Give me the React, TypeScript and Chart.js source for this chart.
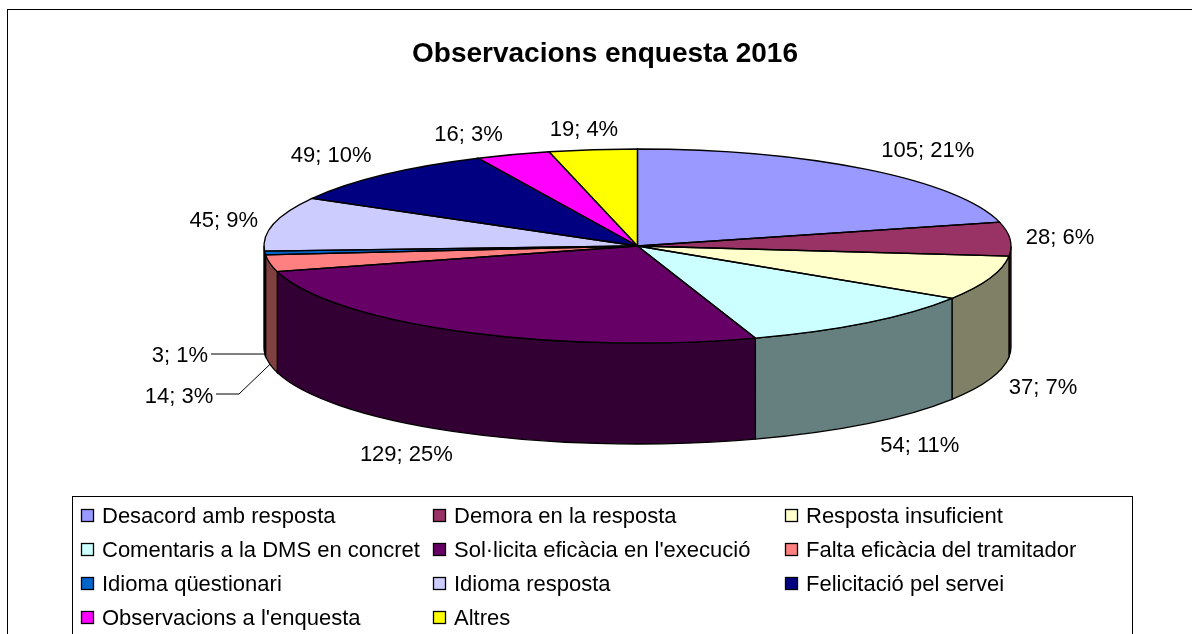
import React, { useEffect, useRef } from "react";
import { Chart, registerables } from "chart.js";

Chart.register(...registerables);

const titleText = "Observacions enquesta 2016";
const categories = [
  "Desacord amb resposta",
  "Demora en la resposta",
  "Resposta insuficient",
  "Comentaris a la DMS en concret",
  "Sol·licita eficàcia en l'execució",
  "Falta eficàcia del tramitador",
  "Idioma qüestionari",
  "Idioma resposta",
  "Felicitació pel servei",
  "Observacions a l'enquesta",
  "Altres",
];
const counts = [105, 28, 37, 54, 129, 14, 3, 45, 49, 16, 19];
const percents = [21, 6, 7, 11, 25, 3, 1, 9, 10, 3, 4];
const faceColors = ["#9999FF", "#993366", "#FFFFCC", "#CCFFFF", "#660066", "#FF8080", "#0066CC", "#CCCCFF", "#000080", "#FF00FF", "#FFFF00"];
const wallColors = ["#4D4D80", "#4D1A33", "#808066", "#668080", "#330033", "#804040", "#003366", "#666680", "#000040", "#800080", "#808000"];

// label offset from the slice's rim point (on the wall bottom when the rim is in front)
const labelOffsets = [[61, -19.5], [50, -2], [53, 8], [53, 21.5], [-55, 21.4], [-91, 32], [-85, 1], [-50, -4], [-52, -20], [-44.5, -20.6], [-9, -20.7]];
const leaderLines: Record<number, number[][]> = {
  5: [[239, 394], [216, 394]],
  6: [[211, 354]],
};

const FONT = '"Liberation Sans", Arial, sans-serif';
const CX = 637.5, CY = 246, RX = 373.5, RY = 97, DEPTH = 101;
const OUTLINE = 1.3;

const pie3d = {
  id: "pie3d",
  beforeDatasetsDraw(chart: any) {
    const ctx = chart.ctx;
    const arcs = chart.getDatasetMeta(0).data;
    // walls
    ctx.save();
    ctx.lineWidth = OUTLINE;
    ctx.strokeStyle = "#000";
    arcs.forEach((a: any, i: number) => {
      let s = a.startAngle, e = a.endAngle;
      const full = Math.PI * 2;
      while (s < -Math.PI / 2) { s += full; e += full; }
      const from = Math.max(s, 0), to = Math.min(e, Math.PI);
      if (to <= from) return;
      ctx.beginPath();
      ctx.ellipse(CX, CY, RX, RY, 0, from, to);
      ctx.ellipse(CX, CY + DEPTH, RX, RY, 0, to, from, true);
      ctx.closePath();
      ctx.fillStyle = wallColors[i];
      ctx.fill();
      ctx.stroke();
    });
    ctx.restore();
    // let the library's own arcs draw on a squashed plane
    const a0 = arcs[0];
    const sx = RX / a0.outerRadius, sy = RY / a0.outerRadius;
    ctx.save();
    ctx.translate(CX, CY);
    ctx.scale(sx, sy);
    ctx.translate(-a0.x, -a0.y);
  },
  afterDatasetsDraw(chart: any) {
    const ctx = chart.ctx;
    ctx.restore();
    const arcs = chart.getDatasetMeta(0).data;
    ctx.save();
    ctx.lineWidth = OUTLINE;
    ctx.strokeStyle = "#000";
    arcs.forEach((a: any) => {
      ctx.beginPath();
      ctx.moveTo(CX, CY);
      ctx.ellipse(CX, CY, RX, RY, 0, a.startAngle, a.endAngle);
      ctx.closePath();
      ctx.stroke();
    });
    // data labels + leaders
    ctx.font = `22px ${FONT}`;
    ctx.fillStyle = "#000";
    ctx.textAlign = "center";
    ctx.textBaseline = "middle";
    arcs.forEach((a: any, i: number) => {
      const mid = (a.startAngle + a.endAngle) / 2;
      const px = CX + RX * Math.cos(mid);
      let py = CY + RY * Math.sin(mid);
      const front = i >= 2 && i <= 6;
      if (front) py += DEPTH;
      const lx = px + labelOffsets[i][0], ly = py + labelOffsets[i][1] + 1;
      const lead = leaderLines[i];
      if (lead) {
        ctx.beginPath();
        ctx.moveTo(px, py);
        lead.forEach((p: number[]) => ctx.lineTo(p[0], p[1]));
        ctx.strokeStyle = "#000";
        ctx.lineWidth = 1;
        ctx.stroke();
      }
      ctx.fillText(`${counts[i]}; ${percents[i]}%`, lx, ly);
    });
    // legend
    const colX = [81, 433, 785], rowY = [516, 550, 584, 618];
    ctx.strokeStyle = "#000";
    ctx.lineWidth = 1;
    ctx.strokeRect(72.5, 496.5, 1060, 200);
    ctx.textAlign = "left";
    categories.forEach((c, i) => {
      const x = colX[i % 3], y = rowY[Math.floor(i / 3)];
      ctx.fillStyle = faceColors[i];
      ctx.fillRect(x + 0.5, y - 6.5, 12, 12);
      ctx.lineWidth = 1.3;
      ctx.strokeRect(x + 0.5, y - 6.5, 12, 12);
      ctx.lineWidth = 1;
      ctx.fillStyle = "#000";
      ctx.fillText(c, x + 21, y + 1);
    });
    // chart frame runs off the right and bottom edges
    ctx.strokeStyle = "#000";
    ctx.strokeRect(7.5, 9.5, 1300, 800);
    ctx.restore();
  },
};

export default function App() {
  const ref = useRef<HTMLCanvasElement>(null);
  useEffect(() => {
    const chart = new Chart(ref.current as HTMLCanvasElement, {
      type: "pie",
      data: {
        labels: categories,
        datasets: [{ data: counts, backgroundColor: faceColors, borderWidth: 0, clip: false } as any],
      },
      options: {
        responsive: false,
        animation: false,
        layout: { padding: { left: 18, top: 37, right: 0, bottom: 0 } },
        plugins: {
          legend: { display: false },
          tooltip: { enabled: false },
          title: {
            display: true,
            text: titleText,
            color: "#000",
            font: { family: FONT, size: 28, weight: "bold" },
            padding: { top: 0, bottom: 10 },
          },
        },
      } as any,
      plugins: [pie3d],
    });
    return () => chart.destroy();
  }, []);
  return (
    <div style={{ position: "fixed", left: 0, top: 0, width: 1192, height: 634, overflow: "hidden", background: "#fff" }}>
      <canvas ref={ref} width={1192} height={634} style={{ display: "block" }} />
    </div>
  );
}
